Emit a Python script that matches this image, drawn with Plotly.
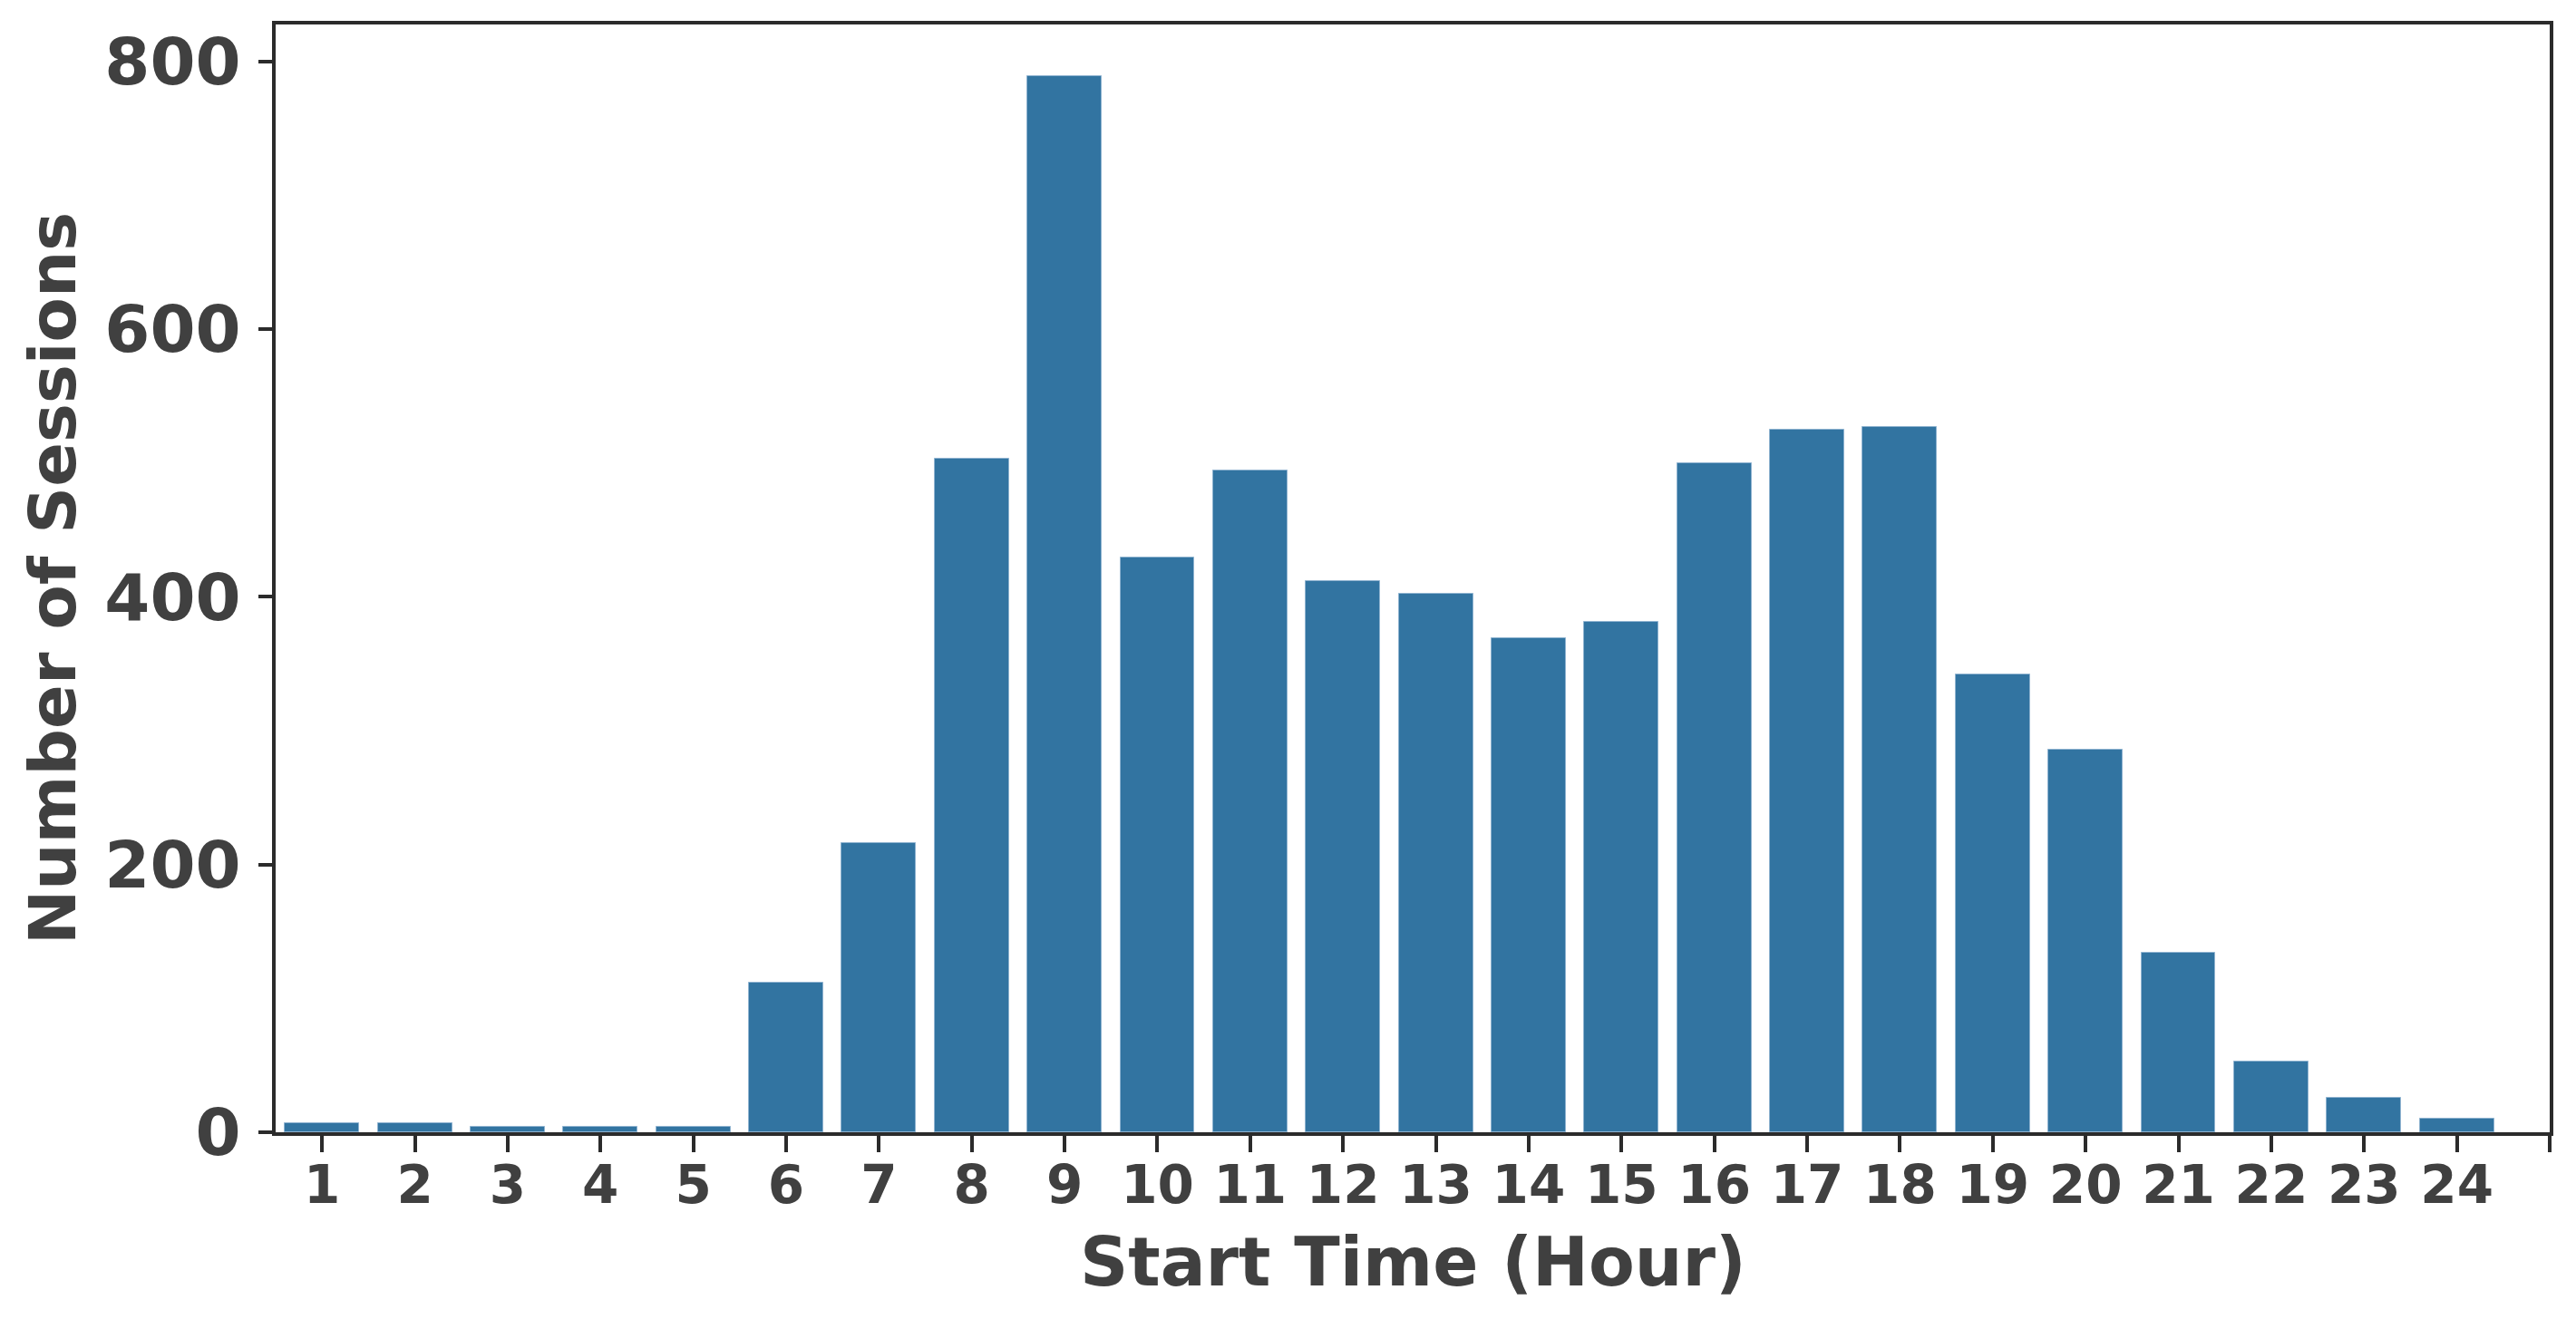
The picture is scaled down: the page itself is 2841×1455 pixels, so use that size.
import plotly.graph_objects as go

# Sessions started per hour of day
hours = list(range(1, 25))
sessions = [7, 7, 4, 4, 4, 112, 216, 503, 789, 429, 494, 412,
            402, 369, 381, 500, 525, 527, 342, 286, 134, 53, 26, 10]

# x ticks: one per hour plus an unlabeled tick at the right edge
x_tickvals = list(range(1, 26))
x_ticktext = [str(h) for h in hours] + [""]
y_tickvals = [0, 200, 400, 600, 800]

ink = "#404040"
axis_c = "#2b2b2b"
font = "DejaVu Sans"

# page body has an 8px margin, so the figure is a little smaller than the window
W, H = 2833, 1447
L, R, T, B = 296, 29, 19, 206
pw, ph = W - L - R, H - T - B

fig = go.Figure(go.Bar(
    x=hours, y=sessions, width=0.8,
    marker=dict(color="#3274a1", line=dict(color="#8fb3d0", width=1)),
))

fig.update_xaxes(
    range=[0.5, 25], tickmode="array", tickvals=x_tickvals, ticktext=x_ticktext,
    ticks="outside", ticklen=18, tickwidth=4, tickcolor=axis_c,
    showline=True, linecolor=axis_c, linewidth=4, mirror=True,
    showgrid=False, zeroline=False, automargin=False, ticklabelstandoff=-14,
    tickfont=dict(family=font, size=58, color=ink, weight="bold"),
)
fig.update_yaxes(
    range=[0, 827.5], tickmode="array", tickvals=y_tickvals,
    ticks="outside", ticklen=15, tickwidth=4, tickcolor=axis_c,
    showline=True, linecolor=axis_c, linewidth=4, mirror=True,
    showgrid=False, zeroline=False, automargin=False, ticklabelstandoff=5,
    tickfont=dict(family=font, size=72, color=ink, weight="bold"),
)

# axis titles as annotations so they sit exactly where the reference has them
fig.add_annotation(
    text="<b>Start Time (Hour)</b>", xref="paper", yref="paper",
    x=0.5, y=-(1384 - (T + ph)) / ph, xanchor="center", yanchor="middle",
    showarrow=False, font=dict(family=font, size=74, color=ink),
)
fig.add_annotation(
    text="<b>Number of Sessions</b>", xref="paper", yref="paper",
    x=-(L - 50) / pw, y=0.5, xanchor="center", yanchor="middle",
    textangle=-90, showarrow=False, font=dict(family=font, size=72, color=ink),
)

fig.update_layout(
    width=W, height=H,
    margin=dict(l=L, r=R, t=T, b=B),
    plot_bgcolor="white", paper_bgcolor="white",
    showlegend=False, bargap=0,
)
fig.write_html("out.html")
